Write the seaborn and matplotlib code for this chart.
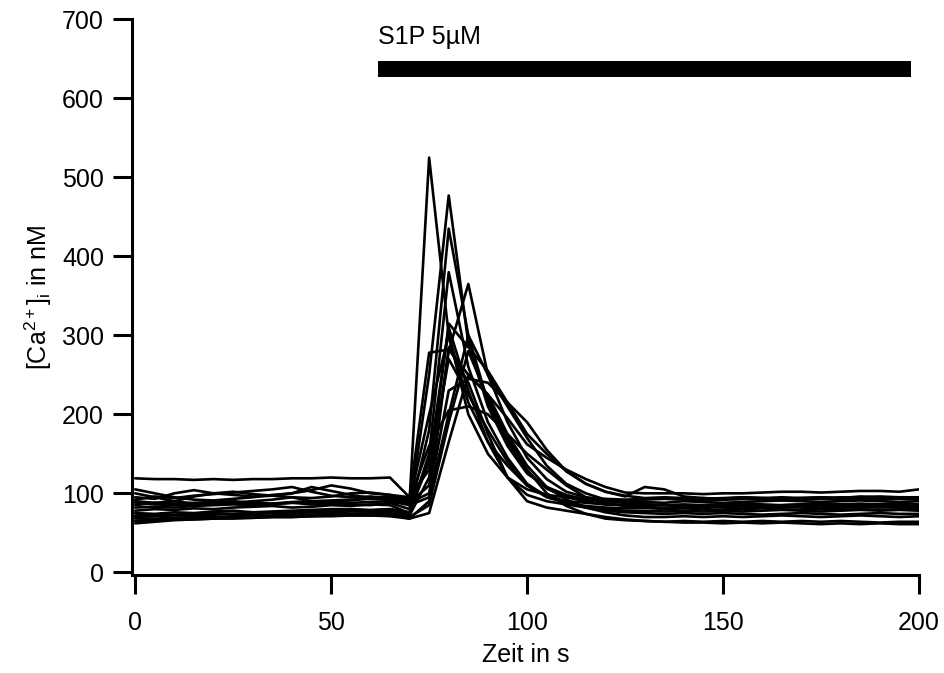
import numpy as np
import pandas as pd
import matplotlib
matplotlib.use("Agg")
import matplotlib.pyplot as plt
import seaborn as sns

# time axis (s), sampled every 5 s
time_s = list(range(0, 205, 5))

# [Ca2+]i traces in nM (one list per cell)
cell_01 = [119, 118, 118, 117, 118, 117, 118, 118, 119, 119, 120, 119, 119, 120,
           95, 278, 282, 250, 225, 195, 162, 145, 130, 118, 108, 101, 100, 100, 100, 99,
           100, 100, 101, 102, 102, 101, 102, 103, 103, 102, 105]
cell_02 = [92, 96, 94, 97, 99, 101, 103, 105, 108, 102, 97, 95, 96, 94,
           90, 525, 300, 200, 150, 120, 105, 98, 95, 94, 93, 92, 93, 94, 93, 94,
           93, 95, 94, 93, 94, 95, 94, 96, 95, 94, 95]
cell_03 = [85, 88, 90, 87, 86, 88, 90, 92, 95, 90, 88, 86, 85, 88,
           80, 250, 477, 290, 210, 160, 125, 108, 98, 92, 90, 88, 89, 88, 90, 89,
           88, 89, 90, 91, 90, 89, 90, 91, 90, 89, 90]
cell_04 = [78, 80, 79, 81, 80, 82, 83, 84, 82, 83, 85, 84, 86, 85,
           75, 180, 435, 300, 215, 165, 128, 106, 95, 90, 86, 85, 84, 85, 84, 85,
           86, 85, 84, 85, 86, 85, 84, 85, 86, 85, 85]
cell_05 = [95, 93, 100, 104, 100, 98, 96, 97, 100, 108, 103, 98, 94, 92,
           88, 110, 280, 365, 250, 190, 145, 118, 102, 95, 92, 90, 92, 93, 92, 91,
           92, 93, 92, 91, 92, 93, 92, 93, 92, 93, 92]
cell_06 = [70, 71, 72, 72, 73, 74, 74, 75, 75, 76, 76, 77, 77, 78,
           72, 120, 315, 285, 255, 215, 175, 150, 128, 112, 102, 96, 108, 105, 96, 94,
           92, 93, 94, 95, 94, 93, 95, 94, 93, 94, 94]
cell_07 = [82, 83, 82, 84, 85, 86, 85, 87, 88, 86, 87, 88, 89, 90,
           85, 95, 200, 300, 250, 210, 170, 135, 112, 100, 92, 88, 86, 85, 84, 83,
           84, 83, 82, 83, 84, 83, 82, 83, 84, 83, 82]
cell_08 = [65, 66, 67, 67, 68, 69, 69, 70, 70, 71, 71, 72, 72, 73,
           68, 90, 285, 240, 175, 120, 90, 82, 78, 74, 70, 67, 65, 64, 63, 63,
           62, 63, 62, 63, 62, 61, 62, 61, 62, 61, 61]
cell_09 = [100, 95, 90, 96, 100, 102, 99, 97, 95, 94, 96, 100, 101, 98,
           92, 160, 205, 210, 200, 175, 150, 130, 110, 95, 88, 84, 82, 80, 81, 80,
           79, 80, 81, 80, 79, 80, 79, 80, 79, 80, 80]
cell_10 = [62, 64, 66, 67, 68, 68, 69, 70, 70, 71, 72, 72, 72, 71,
           68, 75, 165, 250, 225, 175, 135, 108, 92, 82, 76, 72, 70, 70, 71, 70,
           71, 70, 71, 72, 71, 70, 71, 72, 71, 70, 71]
cell_11 = [75, 74, 76, 75, 77, 78, 76, 77, 78, 79, 80, 80, 79, 80,
           76, 140, 310, 230, 165, 120, 98, 90, 86, 82, 80, 78, 78, 77, 78, 77,
           78, 77, 78, 79, 78, 77, 78, 79, 78, 79, 78]
cell_12 = [90, 88, 87, 88, 89, 90, 88, 87, 89, 90, 91, 92, 93, 92,
           88, 100, 230, 245, 240, 215, 190, 155, 128, 112, 102, 97, 94, 95, 94, 93,
           94, 95, 94, 93, 94, 95, 94, 95, 96, 95, 95]
cell_13 = [72, 73, 73, 74, 75, 74, 75, 76, 77, 76, 78, 79, 78, 80,
           74, 150, 380, 260, 190, 145, 112, 96, 88, 82, 78, 76, 75, 74, 75, 74,
           75, 74, 73, 74, 75, 74, 73, 74, 75, 74, 74]
cell_14 = [105, 100, 95, 92, 91, 93, 95, 98, 100, 104, 110, 106, 100, 98,
           95, 130, 270, 225, 180, 140, 110, 95, 88, 84, 82, 81, 82, 81, 82, 83,
           82, 81, 82, 83, 82, 81, 82, 83, 82, 83, 82]
cell_15 = [68, 68, 69, 70, 70, 71, 72, 72, 73, 73, 74, 74, 75, 75,
           70, 85, 190, 280, 220, 170, 130, 100, 84, 74, 68, 66, 65, 64, 65, 64,
           65, 64, 65, 64, 65, 64, 65, 64, 63, 64, 64]
cell_16 = [88, 86, 85, 86, 87, 88, 87, 86, 88, 89, 90, 91, 94, 96,
           90, 200, 300, 215, 165, 135, 110, 97, 90, 88, 86, 85, 86, 85, 86, 85,
           86, 87, 86, 85, 86, 87, 86, 87, 86, 87, 86]

cells = [cell_01, cell_02, cell_03, cell_04, cell_05, cell_06, cell_07, cell_08,
         cell_09, cell_10, cell_11, cell_12, cell_13, cell_14, cell_15, cell_16]

# stimulus bar
stim_label = "S1P 5µM"
stim_start = 62
stim_end = 198
stim_level = 637

x_ticks = [0, 50, 100, 150, 200]
y_ticks = [0, 100, 200, 300, 400, 500, 600, 700]

sns.set_theme(style="ticks")
plt.rcParams["font.family"] = ["Liberation Sans", "DejaVu Sans"]
plt.rcParams["mathtext.fontset"] = "custom"
plt.rcParams["mathtext.rm"] = "Liberation Sans"
plt.rcParams["mathtext.it"] = "Liberation Sans:italic"
plt.rcParams["mathtext.default"] = "regular"
plt.rcParams["text.color"] = "black"
plt.rcParams["axes.labelcolor"] = "black"

FS = 18

rows = []
for i, vals in enumerate(cells):
    for t, v in zip(time_s, vals):
        rows.append({"cell": i, "t": t, "ca": v})
df = pd.DataFrame(rows)

fig = plt.figure(figsize=(9.44, 6.73), dpi=100)
ax = fig.add_axes([0.1395, 0.1456, 0.9735 - 0.1395, 0.9713 - 0.1456])

sns.lineplot(data=df, x="t", y="ca", units="cell", estimator=None,
             color="black", linewidth=1.9, ax=ax, legend=False)

ax.plot([stim_start, stim_end], [stim_level, stim_level], color="black",
        linewidth=11.5, solid_capstyle="butt")
ax.text(stim_start, 677, stim_label, fontsize=FS, ha="left", va="center",
        color="black")

ax.set_xlim(-0.9, 200)
ax.set_ylim(-3.4, 700)
ax.set_xticks(x_ticks)
ax.set_yticks(y_ticks)
ax.tick_params(axis="both", direction="out", length=14, width=2.2,
               labelsize=FS, color="black", labelcolor="black")
ax.tick_params(axis="x", pad=12)
ax.tick_params(axis="y", pad=6)

for s in ["top", "right"]:
    ax.spines[s].set_visible(False)
for s in ["left", "bottom"]:
    ax.spines[s].set_linewidth(2.2)
    ax.spines[s].set_color("black")

ax.set_xlabel("Zeit in s", fontsize=FS, labelpad=6, color="black")
ax.set_ylabel("[Ca$^{2+}$]$_i$ in nM", fontsize=FS, labelpad=6, color="black")

fig.savefig("out.png", dpi=100)
